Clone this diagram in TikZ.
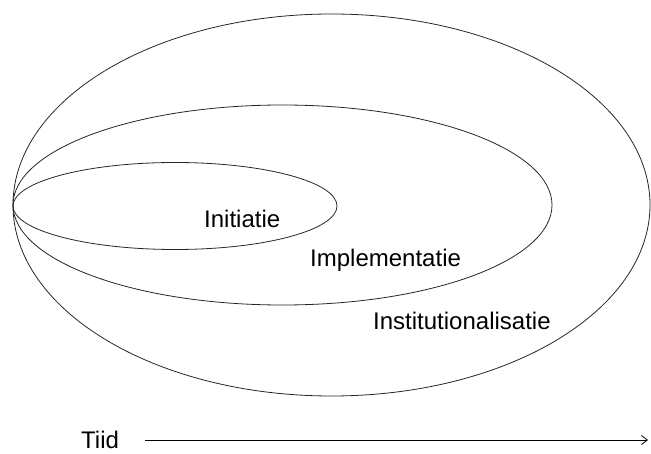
\documentclass[tikz,border=0pt]{standalone}
\usepackage{fontspec}
\setmainfont{Liberation Sans}
\usetikzlibrary{arrows.meta}
\begin{document}
\begin{tikzpicture}[x=1pt,y=-1pt,
  ring/.style={draw=black!85,line width=0.8pt},
  lbl/.style={anchor=base west,inner sep=0pt,font=\fontsize{24}{28}\selectfont}]
\useasboundingbox (0,0) rectangle (651,454);
\draw[ring] (331.5,205) ellipse [x radius=318.5, y radius=191];
\draw[ring] (282.5,205) ellipse [x radius=269.5, y radius=100];
\draw[ring] (175,206) ellipse [x radius=162, y radius=43.5];
\node[lbl] (init) at (204,228) {Initiatie};
\node[lbl] (impl) at (310,267) {Implementatie};
\node[lbl] (inst) at (373,330) {Institutionalisatie};
\node[lbl] (tijd) at (81,448) {Tiid};
\coordinate (astart) at (145,440);
\coordinate (aend) at (648,440);
\draw[line width=0.8pt,-{Straight Barb[length=6pt,width=9pt]}] (astart) -- (aend);
\end{tikzpicture}
\end{document}
